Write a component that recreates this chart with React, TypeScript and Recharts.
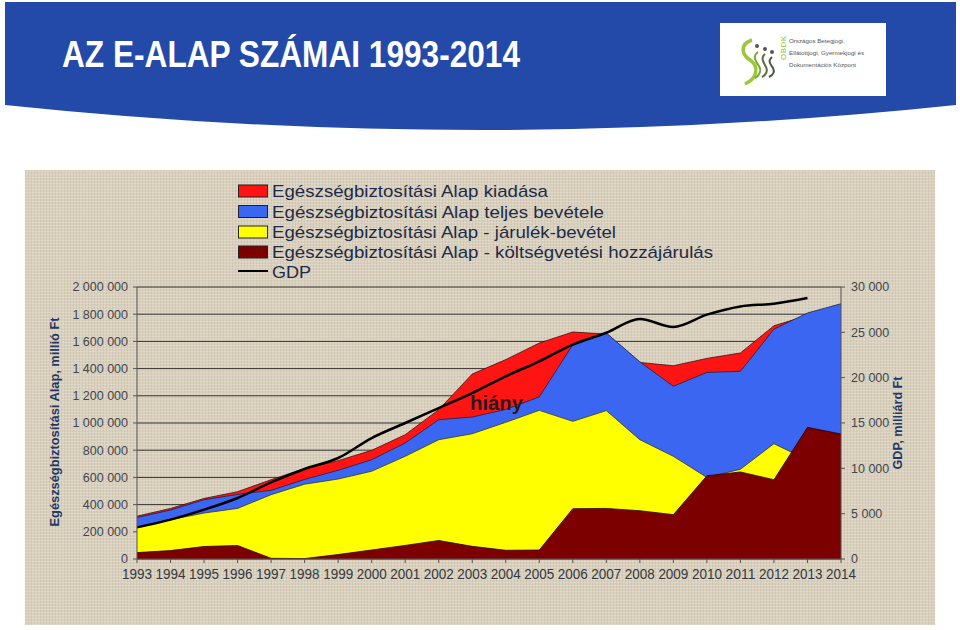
import React from "react"
import { ComposedChart, Area, Line, XAxis, YAxis, CartesianGrid, Legend } from "recharts"

// évek
const years = [
  "1993", "1994", "1995", "1996", "1997", "1998", "1999", "2000", "2001", "2002", "2003",
  "2004", "2005", "2006", "2007", "2008", "2009", "2010", "2011", "2012", "2013", "2014",
]

// E-Alap, millió Ft
const kiadasa = [
  315000, 372000, 445000, 495000, 583000, 665000, 723000, 799000, 914000, 1098000, 1360000,
  1466000, 1588000, 1669000, 1654000, 1445000, 1421000, 1475000, 1515000, 1715000, 1790000, 1850000,
]
const teljesBevetel = [
  305000, 360000, 436000, 475000, 505000, 585000, 652000, 730000, 853000, 1024000, 1044000,
  1100000, 1192000, 1576000, 1662000, 1450000, 1270000, 1372000, 1380000, 1690000, 1809000, 1877000,
]
const jarulekBevetel = [
  235000, 289000, 338000, 372000, 473000, 550000, 588000, 645000, 755000, 877000, 921000,
  1005000, 1093000, 1012000, 1091000, 877000, 755000, 600000, 660000, 848000, 728000, 700000,
]
const koltsegvetesi = [
  47000, 62000, 92000, 99000, 5000, 3000, 33000, 66000, 100000, 136000, 93000,
  64000, 66000, 370000, 372000, 355000, 326000, 612000, 640000, 583000, 968000, 919000,
]

// GDP, milliárd Ft
const gdp = [
  3490, 4340, 5440, 6730, 8450, 9930, 11140, 13340, 15000, 16650, 18300,
  20150, 21800, 23640, 24950, 26470, 25590, 26950, 27860, 28160, 28790, null,
]

const leftTicks = [0, 200000, 400000, 600000, 800000, 1000000, 1200000, 1400000, 1600000, 1800000, 2000000]
const rightTicks = [0, 5000, 10000, 15000, 20000, 25000, 30000]

const legendItems = [
  { label: "Egészségbiztosítási Alap kiadása", color: "#ff1414", w: 276 },
  { label: "Egészségbiztosítási Alap teljes bevétele", color: "#3a66f2", w: 332 },
  { label: "Egészségbiztosítási Alap - járulék-bevétel", color: "#ffff00", w: 344 },
  { label: "Egészségbiztosítási Alap - költségvetési hozzájárulás", color: "#7d0000", w: 441 },
]

const data = years.map((year, i) => ({
  year,
  kiadasa: kiadasa[i],
  teljesBevetel: teljesBevetel[i],
  jarulekBevetel: jarulekBevetel[i],
  koltsegvetesi: koltsegvetesi[i],
  gdp: gdp[i],
}))

const font = "'Liberation Sans', Arial, sans-serif"
const fmt = (v: number) => String(v).replace(/\B(?=(\d{3})+(?!\d))/g, " ")

function YearTick({ x, y, payload }: any) {
  return (
    <text x={x} y={y + 14} textAnchor="middle" fontSize={14} fill="#333840" fontFamily={font}
      textLength={30} lengthAdjust="spacingAndGlyphs">
      {payload.value}
    </text>
  )
}

function renderLegend() {
  const rowY = [11, 31.5, 52, 72]
  return (
    <svg width={500} height={100} style={{ display: "block" }}>
      {legendItems.map((it, i) => (
        <g key={it.label}>
          <rect x={0.5} y={rowY[i] - 6} width={29} height={12} fill={it.color} stroke="#222" strokeWidth={1} />
          <text x={34} y={rowY[i] + 6} fontSize={17} fill="#1d2b48" fontFamily={font}
            textLength={it.w} lengthAdjust="spacingAndGlyphs">
            {it.label}
          </text>
        </g>
      ))}
      <line x1={0} x2={30} y1={91} y2={91} stroke="#000" strokeWidth={2} />
      <text x={34} y={97.5} fontSize={17} fill="#1d2b48" fontFamily={font} textLength={39} lengthAdjust="spacingAndGlyphs">
        GDP
      </text>
    </svg>
  )
}

function Logo() {
  return (
    <g>
      <rect x={720} y={23} width={166} height={73} fill="#fff" />
      <path d="M752,40 C740,44 741,54 750,60 C759,66 758,78 745,84" fill="none" stroke="#9cc63b" strokeWidth={3.5} />
      <path d="M758,52 C752,56 756,62 759,66 C762,71 759,76 755,78" fill="none" stroke="#7aa832" strokeWidth={2} />
      <path d="M765,54 C760,58 764,63 766,67 C768,71 766,75 762,77" fill="none" stroke="#5d6b4a" strokeWidth={2} />
      <path d="M772,57 C767,61 771,65 773,68 C775,72 773,75 769,77" fill="none" stroke="#4d5a40" strokeWidth={2} />
      <circle cx={757} cy={46} r={2} fill="#555" />
      <circle cx={765} cy={49} r={2} fill="#555" />
      <circle cx={772} cy={52} r={2} fill="#555" />
      <text transform="translate(786,60) rotate(-90)" fontSize={8} fill="#8bbf3a" fontFamily={font} letterSpacing={0.5}>
        OBDK
      </text>
      <g fontSize={6.2} fill="#555" fontFamily={font}>
        <text x={789} y={43}>Országos Betegjogi,</text>
        <text x={789} y={55}>Ellátottjogi, Gyermekjogi és</text>
        <text x={789} y={67}>Dokumentációs Központ</text>
      </g>
    </g>
  )
}

export default function App() {
  return (
    <div style={{ position: "absolute", left: 0, top: 0, width: 960, height: 630, background: "#fff", fontFamily: font }}>
      <svg width={960} height={170} style={{ position: "absolute", left: 0, top: 0 }}>
        <path d="M5,2 H956 V105 Q480,155 5,105 Z" fill="#2349a9" />
        <text x={62} y={67} fontSize={37} fontWeight="bold" fill="#fff" fontFamily={font}
          textLength={458} lengthAdjust="spacingAndGlyphs">
          AZ E-ALAP SZÁMAI 1993-2014
        </text>
        <Logo />
      </svg>

      <div
        style={{
          position: "absolute", left: 25, top: 170, width: 910, height: 455,
          backgroundColor: "#d9d0be",
          backgroundImage:
            "repeating-linear-gradient(0deg, rgba(255,255,255,0.18) 0px, rgba(255,255,255,0.18) 1px, transparent 1px, transparent 3px), repeating-linear-gradient(90deg, rgba(120,100,70,0.10) 0px, rgba(120,100,70,0.10) 1px, transparent 1px, transparent 3px)",
        }}
      >
        <ComposedChart width={910} height={455} data={data} margin={{ top: 117, right: 0, left: 0, bottom: 0 }}>
          <CartesianGrid yAxisId="left" vertical={false} stroke="#333" strokeWidth={1} />
          <XAxis dataKey="year" scale="point" interval={0} height={66} tick={<YearTick />}
            tickSize={4} stroke="#555" padding={{ left: 0, right: 0 }} />
          <YAxis yAxisId="left" width={112} domain={[0, 2000000]} ticks={leftTicks} tickFormatter={fmt}
            tickSize={4} tickMargin={5} stroke="#555" interval={0}
            tick={{ fontSize: 12.5, fill: "#3f4650", fontFamily: font }} />
          <YAxis yAxisId="right" orientation="right" width={94} domain={[0, 30000]} ticks={rightTicks}
            tickFormatter={fmt} tickSize={4} tickMargin={6} stroke="#555" interval={0}
            tick={{ fontSize: 12.5, fill: "#3f4650", fontFamily: font, textAnchor: "start" }} />
          <Area yAxisId="left" type="linear" dataKey="kiadasa" fill="#ff1414" fillOpacity={1}
            stroke="#3a1010" strokeWidth={0.8} isAnimationActive={false} />
          <Area yAxisId="left" type="linear" dataKey="teljesBevetel" fill="#3a66f2" fillOpacity={1}
            stroke="#1a2240" strokeWidth={0.8} isAnimationActive={false} />
          <Area yAxisId="left" type="linear" dataKey="jarulekBevetel" fill="#ffff00" fillOpacity={1}
            stroke="#333" strokeWidth={0.8} isAnimationActive={false} />
          <Area yAxisId="left" type="linear" dataKey="koltsegvetesi" fill="#7d0000" fillOpacity={1}
            stroke="#2a0000" strokeWidth={0.8} isAnimationActive={false} />
          <Line yAxisId="right" type="monotone" dataKey="gdp" stroke="#000" strokeWidth={2.5} dot={false}
            isAnimationActive={false} />
          <Legend layout="vertical" align="center" verticalAlign="middle" content={renderLegend}
            wrapperStyle={{ left: 213, top: 10, width: 500, height: 100 }} />
        </ComposedChart>
      </div>

      <svg width={960} height={630} style={{ position: "absolute", left: 0, top: 0, pointerEvents: "none" }}>
        <text transform="translate(59,422) rotate(-90)" textAnchor="middle" fontSize={13} fontWeight="bold"
          fill="#1f3864" fontFamily={font} textLength={209} lengthAdjust="spacingAndGlyphs">
          Egészségbiztosítási Alap, millió Ft
        </text>
        <text transform="translate(902,423) rotate(-90)" textAnchor="middle" fontSize={13} fontWeight="bold"
          fill="#1f3864" fontFamily={font} textLength={93} lengthAdjust="spacingAndGlyphs">
          GDP, milliárd Ft
        </text>
        <text x={470} y={410} fontSize={21} fontWeight="bold" fill="#2b1a1a" fontFamily={font}
          textLength={53} lengthAdjust="spacingAndGlyphs">
          hiány
        </text>
      </svg>
    </div>
  )
}
